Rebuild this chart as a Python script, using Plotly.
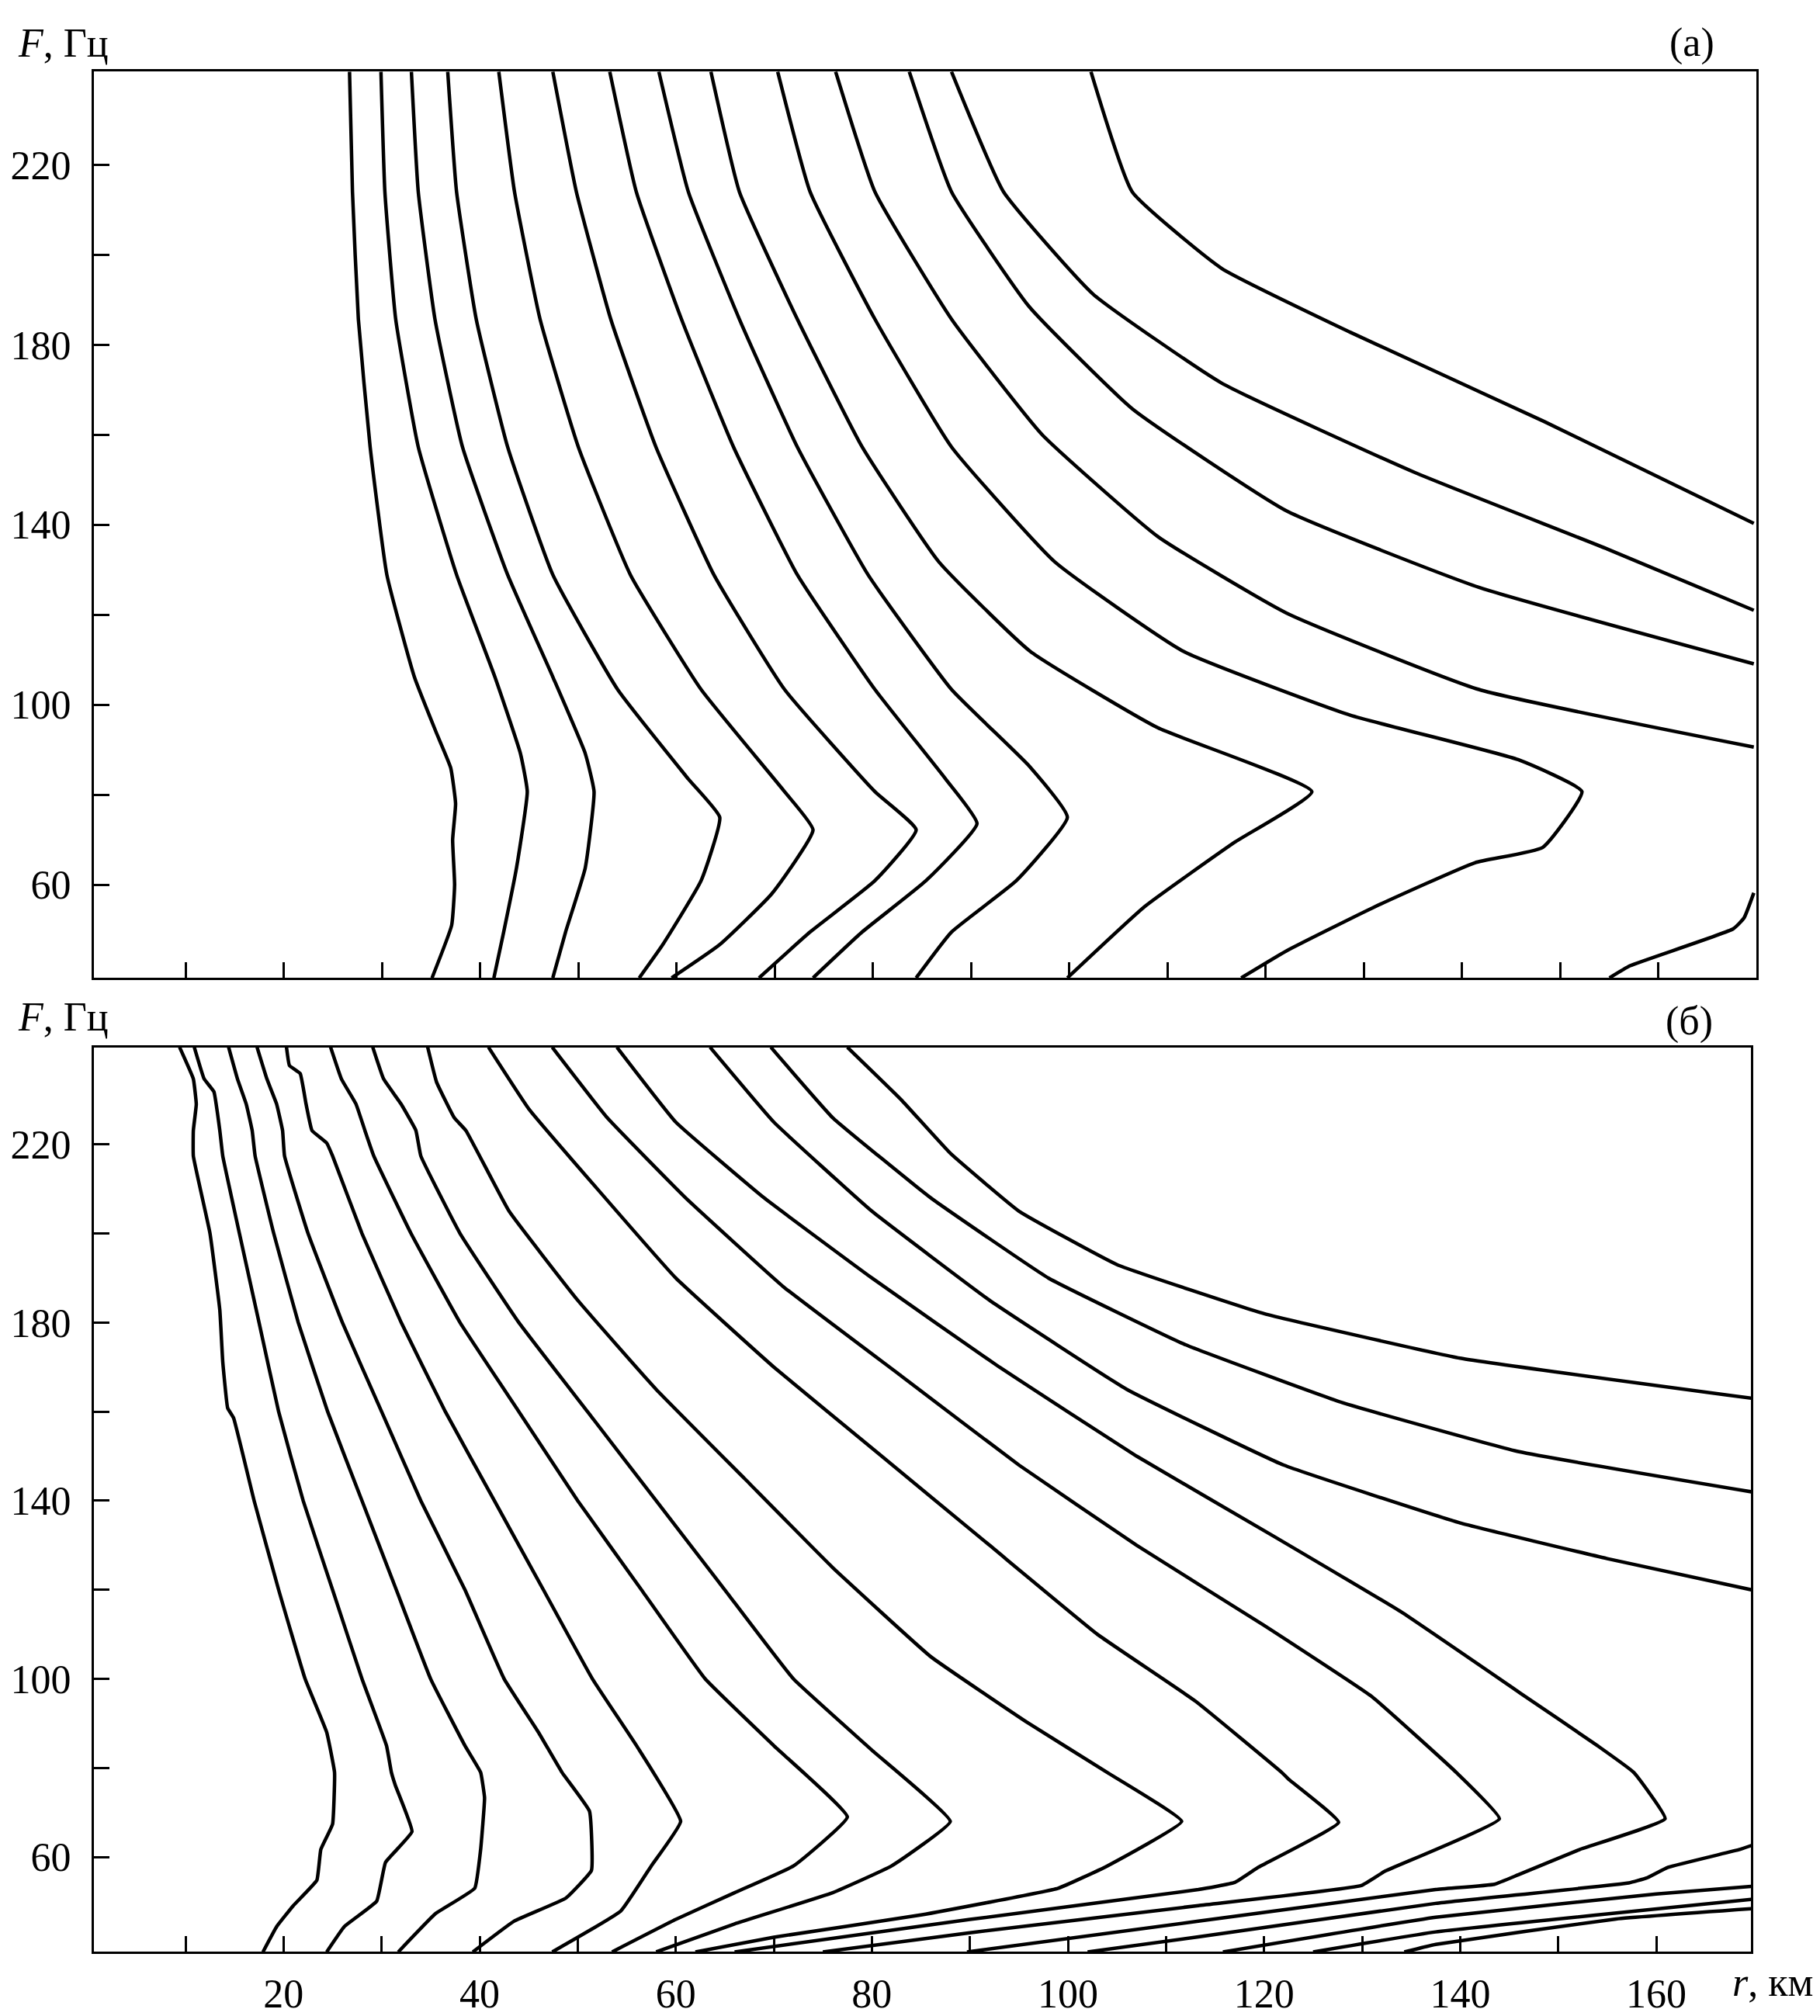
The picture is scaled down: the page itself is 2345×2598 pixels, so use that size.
import plotly.graph_objects as go

# Frequency-range diagrams: contour curves F(r) for two cases (а) and (б).
# Each curve is a list of (r [km], F [Hz]) nodes, traced from the top edge downwards.

# ---- panel (а) ----
a01 = [(26.7, 240.7), (27.0, 214), (27.6, 185.7), (28.8, 157.3), (30.5, 128.9), (33.3, 106.2), (35.5, 94), (37.0, 86), (37.5, 78), (37.2, 70), (37.4, 60), (37.1, 51), (35.1, 39.3)]
a02 = [(29.9, 240.7), (30.3, 214), (31.4, 185.7), (33.7, 157.3), (37.6, 128.9), (41.5, 106.2), (44.1, 89.2), (44.8, 80.7), (43.7, 63.7), (42.4, 49.5), (41.4, 39.3)]
a03 = [(33.0, 240.7), (33.7, 214), (35.4, 185.7), (38.2, 157.3), (42.8, 128.9), (47.4, 106.2), (50.7, 89.2), (51.6, 80.7), (50.7, 63.7), (48.7, 49.5), (47.4, 39.3)]
a04 = [(36.7, 240.7), (37.6, 214), (39.6, 185.7), (42.8, 157.3), (47.4, 128.9), (54.0, 103.4), (61.2, 83.5), (64.4, 75.0), (62.5, 60.9), (58.6, 46.7), (56.2, 39.3)]
a05 = [(41.9, 240.7), (43.5, 214), (46.1, 185.7), (50.0, 157.3), (55.3, 128.9), (62.5, 103.4), (71.0, 80.7), (73.9, 72.2), (69.7, 58.0), (64.4, 46.7), (59.5, 39.3)]
a06 = [(47.4, 240.7), (49.8, 214), (53.3, 185.7), (57.9, 157.3), (63.8, 128.9), (71.0, 103.4), (80.2, 80.7), (84.4, 72.2), (80.2, 60.9), (73.6, 49.5), (68.4, 39.3)]
a07 = [(53.2, 240.7), (55.9, 214), (60.5, 185.7), (65.8, 157.3), (72.3, 128.9), (80.2, 103.4), (87.4, 83.5), (90.6, 73.6), (85.4, 60.9), (78.9, 49.5), (73.9, 39.3)]
a08 = [(58.2, 240.7), (61.2, 214), (66.4, 185.7), (72.3, 157.3), (79.5, 128.9), (88.0, 103.4), (95.9, 86.4), (99.8, 75.0), (94.6, 60.9), (88.0, 49.5), (84.4, 39.3)]
a09 = [(63.5, 240.7), (66.4, 214), (72.3, 185.7), (78.9, 157.3), (86.7, 131.8), (96.0, 111.9), (109.0, 94.9), (124.7, 80.7), (116.8, 69.4), (107.7, 55.2), (99.8, 39.3)]
a10 = [(70.3, 240.7), (73.6, 214), (80.2, 185.7), (88.0, 157.3), (98.5, 131.8), (111.6, 111.9), (128.6, 97.7), (145.7, 87.8), (152.2, 80.7), (148.2, 68.3), (141.3, 64.9), (131.0, 55.0), (122.1, 45.3), (117.5, 39.3)]
a11 = [(76.2, 240.7), (80.2, 214), (88.0, 185.7), (97.2, 160.1), (109.0, 137.4), (122.1, 120.4), (141.7, 103.4), (169.7, 90.6)]
a12 = [(83.7, 240.7), (88.0, 214), (95.9, 188.5), (106.4, 165.8), (122.1, 143.1), (141.7, 126.1), (169.7, 109.1)]
a13 = [(88.0, 240.7), (93.3, 214), (102.4, 191.3), (115.5, 171.5), (135.2, 151.6), (154.8, 134.6), (169.7, 121.0)]
a14 = [(102.2, 240.7), (106.4, 214), (115.5, 197.0), (128.6, 182.8), (148.3, 163.0), (169.7, 140.3)]
a15 = [(155.0, 39.3), (157.1, 42.0), (167.6, 50.2), (168.7, 52.6), (169.7, 58.2)]

# ---- panel (б) ----
b01 = [(9.4, 241.8), (10.8, 234.7), (11.1, 229.0), (10.8, 223.1), (10.8, 217.4), (12.5, 200), (13.5, 182.8), (13.8, 171.2), (14.3, 160.8), (14.9, 158.6), (17.0, 140), (19.5, 120), (22.2, 100), (24.4, 88), (25.2, 79.0), (25.0, 67.4), (23.8, 61.7), (23.4, 54.8), (21.0, 49.1), (19.3, 44.4), (17.9, 38.7)]
b02 = [(10.9, 241.8), (11.9, 234.7), (12.9, 231.8), (13.5, 223.1), (13.8, 217.4), (15.5, 200), (17.5, 180), (19.5, 160), (22.0, 140), (25.0, 120), (28.0, 100), (30.5, 85), (31.0, 79.0), (31.4, 76.1), (33.1, 65.7), (30.4, 58.8), (29.5, 50.1), (26.2, 44.4), (24.4, 38.7)]
b03 = [(14.4, 241.8), (15.3, 234.7), (16.2, 229.0), (16.8, 223.1), (17.1, 217.4), (19.0, 200), (21.5, 180), (24.5, 160), (28.0, 140), (31.5, 120), (35.0, 100), (38.5, 85), (40.1, 79.0), (40.5, 73.3), (40.1, 61.7), (39.5, 53.0), (35.5, 47.3), (31.7, 38.7)]
b04 = [(17.3, 241.8), (18.3, 234.7), (19.3, 229.0), (19.9, 223.1), (20.1, 217.4), (22.5, 200), (26.0, 180), (30.0, 160), (34.0, 140), (38.5, 120), (42.5, 100), (46.0, 88), (48.4, 79.0), (51.2, 70.3), (51.4, 57.0), (48.8, 50.8), (43.5, 45.6), (39.3, 38.7)]
b05 = [(20.3, 241.8), (20.6, 237.7), (21.7, 235.9), (22.3, 229.0), (22.9, 223.1), (24.4, 220.3), (25.0, 217.4), (28.0, 200), (32.0, 180), (36.5, 160), (41.5, 140), (46.5, 120), (51.5, 100), (56.0, 85), (60.5, 68), (57.5, 58), (54.4, 47.9), (47.4, 38.7)]
b06 = [(24.8, 241.8), (25.9, 234.7), (27.4, 229.0), (28.3, 223.1), (29.2, 217.4), (33.0, 200), (38.0, 180), (44.0, 160), (50.0, 140), (56.5, 120), (63.0, 100), (70.0, 85), (77.5, 69), (72.0, 58), (66.0, 52), (60.0, 46), (53.5, 38.7)]
b07 = [(29.1, 241.8), (30.2, 234.7), (32.0, 229.0), (33.5, 223.1), (34.0, 217.4), (38.0, 200), (44.0, 180), (51.0, 160), (58.0, 140), (65.0, 120), (72.0, 100), (80.0, 84), (88.0, 68), (82.0, 58), (76.0, 52), (66.0, 45), (58.0, 38.7)]
b08 = [(34.7, 241.8), (35.6, 234), (37.4, 226), (38.6, 223.1), (43.0, 205), (50.0, 185), (58.0, 165), (67.0, 145), (76.0, 125), (86.0, 105), (96.0, 90), (104.0, 79), (111.6, 68), (104.0, 58), (99.0, 53), (85.0, 47), (70.0, 42), (62.0, 38.7)]
b09 = [(40.9, 241.8), (45.0, 228), (52.0, 210), (60.0, 190), (70.0, 170), (81.0, 150), (92.0, 130), (103.0, 110), (113.0, 95), (121.8, 79.0), (122.6, 77.3), (127.6, 67.8), (119.4, 57.7), (117.0, 54.3), (113.3, 52.7), (90.0, 46), (66.0, 38.7)]
b10 = [(47.4, 241.8), (53.0, 226), (61.0, 208), (71.0, 188), (83.0, 168), (95.0, 148), (107.0, 130), (120.0, 112), (131.0, 96), (139.6, 79.0), (144.0, 68.6), (132.3, 56.8), (129.9, 53.6), (113.3, 49.1), (90.0, 43), (75.0, 38.7)]
b11 = [(54.0, 241.8), (60.0, 225), (69.0, 208), (80.0, 190), (93.0, 170), (107.0, 150), (121.0, 132), (134.0, 115), (146.0, 97), (154.0, 85), (157.7, 79.0), (160.9, 68.6), (152.2, 61.7), (145.9, 56.0), (143.5, 53.9), (137.5, 52.7), (113.3, 45.6), (89.7, 38.7)]
b12 = [(63.5, 241.8), (70.0, 225), (80.0, 205), (92.0, 185), (106.0, 165), (122.0, 148), (140.0, 135), (155.0, 127), (169.7, 120)]
b13 = [(69.7, 241.8), (76.0, 226), (86.0, 208), (98.0, 190), (112.0, 175), (128.0, 162), (146.0, 151), (169.7, 142)]
b14 = [(77.5, 241.8), (83.0, 230), (88.0, 218), (95.0, 205), (105.0, 193), (120.0, 182), (140.0, 172), (169.7, 163)]
b15 = [(102.0, 38.7), (113.3, 42.1), (137.5, 49.6), (157.2, 54.2), (159.0, 55.3), (161.2, 57.7), (168.5, 61.7), (169.7, 62.6)]
b16 = [(115.8, 38.7), (137.5, 46.5), (160.0, 51.7), (169.7, 53.4)]
b17 = [(125.0, 38.7), (137.5, 43.2), (169.7, 50.5)]
b18 = [(134.3, 38.7), (137.5, 40.4), (155.9, 46.1), (169.7, 48.4)]

curves_a = [a01, a02, a03, a04, a05, a06, a07, a08, a09, a10, a11, a12, a13, a14, a15]
curves_b = [b01, b02, b03, b04, b05, b06, b07, b08, b09, b10, b11, b12, b13, b14, b15, b16, b17, b18]

# axis ticks
f_ticks = [60, 80, 100, 120, 140, 160, 180, 200, 220]
f_labels = ["60", "", "100", "", "140", "", "180", "", "220"]
r_ticks = list(range(10, 170, 10))
r_labels = [str(v) if v % 20 == 0 else "" for v in r_ticks]

W, H = 2345, 2598
SERIF = "Liberation Serif, Times New Roman, serif"

fig = go.Figure()
for c in curves_a:
    fig.add_trace(go.Scatter(x=[p[0] for p in c], y=[p[1] for p in c], mode="lines",
                             line=dict(color="black", width=4.5, shape="spline", smoothing=0.4),
                             xaxis="x", yaxis="y", showlegend=False, hoverinfo="skip",
                             cliponaxis=True))
for c in curves_b:
    fig.add_trace(go.Scatter(x=[p[0] for p in c], y=[p[1] for p in c], mode="lines",
                             line=dict(color="black", width=4.5, shape="spline", smoothing=0.3),
                             xaxis="x2", yaxis="y2", showlegend=False, hoverinfo="skip",
                             cliponaxis=True))

axis_common = dict(showline=True, mirror=True, linecolor="black", linewidth=3,
                   ticks="inside", ticklen=20, tickwidth=3, tickcolor="black",
                   showgrid=False, zeroline=False,
                   tickfont=dict(family=SERIF, size=52, color="black"))

fig.update_layout(
    width=W, height=H,
    margin=dict(l=0, r=0, t=0, b=0),
    paper_bgcolor="white", plot_bgcolor="white",
    xaxis=dict(domain=[121 / W, 2263 / W], range=[0.67, 169.96], anchor="y",
               tickvals=r_ticks, showticklabels=False, **axis_common),
    yaxis=dict(domain=[1 - 1269 / H, 1 - 93 / H], range=[39.3, 240.7], anchor="x",
               tickvals=f_ticks, ticktext=f_labels, ticklabelstandoff=16, **axis_common),
    xaxis2=dict(domain=[121 / W, 2256 / W], range=[0.66, 169.65], anchor="y2",
                tickvals=r_ticks, ticktext=r_labels, ticklabelstandoff=6, **axis_common),
    yaxis2=dict(domain=[1 - 2533 / H, 1 - 1359 / H], range=[38.7, 241.8], anchor="x2",
                tickvals=f_ticks, ticktext=f_labels, ticklabelstandoff=16, **axis_common),
)

txt = dict(family=SERIF, size=52, color="black")
notes = [
    ("<i>F</i>, Гц", 21, 56, "left"),
    ("<i>F</i>, Гц", 21, 1320, "left"),
    ("(а)", 2180, 55, "center"),
    ("(б)", 2176, 1325, "center"),
    ("<i>r</i>, км", 2230, 2572, "left"),
]
for text, px, py, anchor in notes:
    fig.add_annotation(text=text, x=px / W, y=1 - py / H, xref="paper", yref="paper",
                       xanchor=anchor, yanchor="middle", showarrow=False, font=txt)

fig.write_html("out.html")
